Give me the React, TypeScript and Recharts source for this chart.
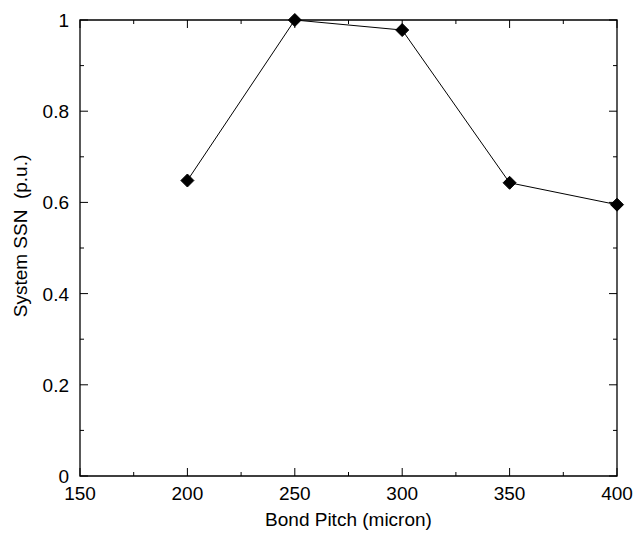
import React from 'react';
import { LineChart, Line, XAxis, YAxis, ReferenceArea, ReferenceLine } from 'recharts';

const pitches = [200, 250, 300, 350, 400];
const ssn = [0.648, 1.0, 0.978, 0.643, 0.595];
const xTicks = [150, 175, 200, 225, 250, 275, 300, 325, 350, 375, 400];
const xMajor = [150, 200, 250, 300, 350, 400];
const yTicks = [0, 0.1, 0.2, 0.3, 0.4, 0.5, 0.6, 0.7, 0.8, 0.9, 1];
const yMajor = [0, 0.2, 0.4, 0.6, 0.8, 1];
const yLabels: Record<string, string> = { '0': '0', '0.2': '0.2', '0.4': '0.4', '0.6': '0.6', '0.8': '0.8', '1': '1' };

const data = pitches.map((p, i) => ({ x: p, y: ssn[i] }));

const FONT = '"Liberation Sans", Arial, Helvetica, sans-serif';
const W = 636;
const H = 535;
const TOP = 20;
const X_AXIS_H = 59;
const PLOT_H = H - TOP - X_AXIS_H;
const MAJ = 8;
const MIN = 4;

const isXMajor = (v: number) => xMajor.includes(v);
const isYMajor = (v: number) => yMajor.some((m) => Math.abs(m - v) < 1e-9);

const BottomTick = (props: any) => {
  const { x, y, payload } = props;
  const v = payload.value;
  const major = isXMajor(v);
  const len = major ? MAJ : MIN;
  return (
    <g>
      <line x1={x} x2={x} y1={y} y2={y - len} stroke="#000" strokeWidth={1} />
      {major && (
        <text x={x} y={y + 24} textAnchor="middle" fontFamily={FONT} fontSize={19} fill="#000">
          {v}
        </text>
      )}
    </g>
  );
};

const LeftTick = (props: any) => {
  const { x, y, payload } = props;
  const v = payload.value;
  const major = isYMajor(v);
  const key = String(Math.round(v * 10) / 10);
  return (
    <g>
      <line x1={x} x2={x + (major ? MAJ : MIN)} y1={y} y2={y} stroke="#000" strokeWidth={1} />
      {major && (
        <text x={x - 11} y={y + 7} textAnchor="end" fontFamily={FONT} fontSize={19} fill="#000">
          {yLabels[key]}
        </text>
      )}
    </g>
  );
};

const RightTick = (props: any) => {
  const { x, y, payload } = props;
  const major = isYMajor(payload.value);
  return <line x1={x} x2={x - (major ? MAJ : MIN)} y1={y} y2={y} stroke="#000" strokeWidth={1} />;
};

const Diamond = (props: any) => {
  const { cx, cy, index } = props;
  const r = 6.5;
  return (
    <path
      key={`d-${index}`}
      d={`M${cx},${cy - r}L${cx + r},${cy}L${cx},${cy + r}L${cx - r},${cy}Z`}
      fill="#000"
      stroke="#000"
    />
  );
};

const XLabel = (props: any) => {
  const vb = props.viewBox;
  const cx = vb.x + vb.width / 2;
  return (
    <text x={cx} y={vb.y + 50} textAnchor="middle" fontFamily={FONT} fontSize={19} fill="#000">
      Bond Pitch (micron)
    </text>
  );
};

const YLabel = (props: any) => {
  const vb = props.viewBox;
  const cx = vb.x + 20;
  const cy = vb.y + vb.height / 2 - 12;
  return (
    <text
      x={cx}
      y={cy}
      transform={`rotate(-90 ${cx} ${cy})`}
      textAnchor="middle"
      dominantBaseline="central"
      fontFamily={FONT}
      fontSize={19}
      fill="#000"
      style={{ whiteSpace: 'pre' }}
    >
      {'System SSN  (p.u.)'}
    </text>
  );
};

export default function App() {
  return (
    <div style={{ position: 'absolute', left: 0, top: 0, background: '#fff' }}>
      <LineChart width={W} height={H} data={data} margin={{ top: TOP, right: 19, bottom: 0, left: 0 }}>
        <XAxis
          xAxisId="b"
          dataKey="x"
          type="number"
          domain={[150, 400]}
          ticks={xTicks}
          interval={0}
          orientation="bottom"
          height={X_AXIS_H}
          tickSize={0}
          tickMargin={0}
          tickLine={false}
          axisLine={false}
          tick={<BottomTick />}
          label={<XLabel />}
        />
        <YAxis
          yAxisId="l"
          type="number"
          domain={[0, 1]}
          ticks={yTicks}
          interval={0}
          orientation="left"
          width={80}
          tickSize={0}
          tickMargin={0}
          tickLine={false}
          axisLine={false}
          tick={<LeftTick />}
          label={<YLabel />}
        />
        <YAxis
          yAxisId="r"
          type="number"
          domain={[0, 1]}
          ticks={yTicks}
          interval={0}
          orientation="right"
          mirror
          width={1}
          tickSize={0}
          tickMargin={0}
          tickLine={false}
          axisLine={false}
          tick={<RightTick />}
        />
        {xTicks.map((v) => (
          <ReferenceLine
            key={`top-${v}`}
            xAxisId="b"
            yAxisId="l"
            segment={[
              { x: v, y: 1 },
              { x: v, y: 1 - (isXMajor(v) ? MAJ : MIN) / PLOT_H },
            ]}
            stroke="#000"
            strokeWidth={1}
            ifOverflow="visible"
          />
        ))}
        <ReferenceArea
          xAxisId="b"
          yAxisId="l"
          x1={150}
          x2={400}
          y1={0}
          y2={1}
          fill="none"
          fillOpacity={0}
          stroke="#000"
          strokeWidth={1.3}
          ifOverflow="visible"
        />
        <Line
          xAxisId="b"
          yAxisId="l"
          dataKey="y"
          type="linear"
          stroke="#000"
          strokeWidth={1}
          dot={Diamond}
          activeDot={false}
          isAnimationActive={false}
        />
        <Line
          xAxisId="b"
          yAxisId="r"
          dataKey="y"
          stroke="none"
          dot={false}
          activeDot={false}
          legendType="none"
          isAnimationActive={false}
        />
      </LineChart>
    </div>
  );
}
